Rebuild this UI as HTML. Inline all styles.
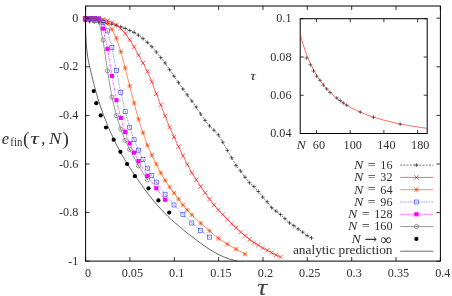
<!DOCTYPE html>
<html><head><meta charset="utf-8"><title>plot</title><style>html,body{margin:0;padding:0;background:#fff;overflow:hidden}body{width:452px;height:296px;position:relative}</style></head><body>
<svg width="452" height="296" viewBox="0 0 452 296" style="display:block;position:absolute;left:0;top:0;will-change:transform">
<rect width="452" height="296" fill="#fff"/>
<polyline fill="none" stroke="#000" stroke-width="0.6" points="85.3,18.2 85.3,20.2 85.3,22.3 85.4,24.3 85.4,26.4 85.5,28.4 85.5,30.5 85.6,32.5 85.7,34.5 85.8,36.6 85.9,38.6 86.0,40.7 86.2,42.7 86.4,44.7 86.5,46.8 86.7,48.8 87.0,50.9 87.2,52.9 87.5,55.0 87.7,57.0 88.1,59.0 88.5,61.1 88.9,63.1 89.3,65.2 89.8,67.2 90.3,69.3 90.8,71.3 91.3,73.3 91.8,75.4 92.2,77.4 92.7,79.5 93.2,81.5 93.8,83.5 94.3,85.6 94.8,87.6 95.4,89.7 95.9,91.7 96.5,93.8 97.1,95.8 97.7,97.8 98.3,99.9 99.0,101.9 99.7,104.0 100.3,106.0 101.0,108.0 101.8,110.1 102.5,112.1 103.2,114.2 104.0,116.2 104.8,118.3 105.6,120.3 106.4,122.3 107.2,124.4 108.1,126.4 109.0,128.5 109.8,130.5 110.7,132.6 111.7,134.6 112.6,136.6 113.5,138.7 114.5,140.7 115.5,142.8 116.5,144.8 117.5,146.8 118.6,148.9 119.7,150.9 120.8,153.0 122.0,155.0 123.2,157.1 124.4,159.1 125.7,161.1 126.9,163.2 128.2,165.2 129.5,167.3 130.9,169.3 132.2,171.4 133.6,173.4 135.0,175.4 136.4,177.5 137.8,179.5 139.2,181.6 140.6,183.6 142.1,185.6 143.5,187.7 145.0,189.7 146.5,191.8 148.1,193.8 149.6,195.9 151.3,197.9 152.9,199.9 154.6,202.0 156.4,204.0 158.2,206.1 160.0,208.1 161.9,210.1 163.8,212.2 165.8,214.2 167.9,216.3 170.0,218.3 172.1,220.4 174.5,222.4 176.9,224.4 179.4,226.5 181.8,228.5 184.2,230.6 186.7,232.6 189.3,234.7 192.0,236.7 194.7,238.7 197.5,240.8 200.2,242.8 202.9,244.9 205.8,246.9 208.9,248.9 212.3,251.0 215.8,253.0 219.7,255.1 224.2,257.1 229.9,259.2 237.5,261.2"/>
<polyline fill="none" stroke="#111" stroke-width="0.6" stroke-dasharray="2 1.2" points="85.3,21.5 89.7,21.7 94.2,22.0 98.6,22.3 103.0,22.7 107.5,23.3 111.9,24.2 116.4,25.3 120.8,26.8 125.2,28.5 129.7,30.5 134.1,32.4 138.5,35.2 143.0,38.6 147.4,42.5 151.8,46.6 156.3,52.0 160.7,57.6 165.1,63.0 169.6,69.7 174.0,76.2 178.5,82.7 182.9,89.0 187.3,94.9 191.8,101.0 196.2,107.0 200.6,114.0 205.1,120.4 209.5,126.0 213.9,130.2 218.4,134.9 222.8,142.2 227.3,150.4 231.7,157.8 236.1,165.6 240.6,171.0 245.0,177.2 249.4,182.7 253.9,186.5 258.3,191.5 262.7,197.1 267.2,201.8 271.6,207.7 276.0,211.1 280.5,214.5 284.9,218.6 289.4,222.8 293.8,225.6 298.2,229.0 302.7,232.1 307.1,235.6 311.5,238.0"/>
<path d="M83.3 21.5H87.3M85.3 19.5V23.5" stroke="#111" stroke-width="0.6" fill="none"/>
<path d="M87.7 21.7H91.7M89.7 19.7V23.7" stroke="#111" stroke-width="0.6" fill="none"/>
<path d="M92.2 22.0H96.2M94.2 20.0V24.0" stroke="#111" stroke-width="0.6" fill="none"/>
<path d="M96.6 22.3H100.6M98.6 20.3V24.3" stroke="#111" stroke-width="0.6" fill="none"/>
<path d="M101.0 22.7H105.0M103.0 20.7V24.7" stroke="#111" stroke-width="0.6" fill="none"/>
<path d="M105.5 23.3H109.5M107.5 21.3V25.3" stroke="#111" stroke-width="0.6" fill="none"/>
<path d="M109.9 24.2H113.9M111.9 22.2V26.2" stroke="#111" stroke-width="0.6" fill="none"/>
<path d="M114.4 25.3H118.4M116.4 23.3V27.3" stroke="#111" stroke-width="0.6" fill="none"/>
<path d="M118.8 26.8H122.8M120.8 24.8V28.8" stroke="#111" stroke-width="0.6" fill="none"/>
<path d="M123.2 28.5H127.2M125.2 26.5V30.5" stroke="#111" stroke-width="0.6" fill="none"/>
<path d="M127.7 30.5H131.7M129.7 28.5V32.5" stroke="#111" stroke-width="0.6" fill="none"/>
<path d="M132.1 32.4H136.1M134.1 30.4V34.4" stroke="#111" stroke-width="0.6" fill="none"/>
<path d="M136.5 35.2H140.5M138.5 33.2V37.2" stroke="#111" stroke-width="0.6" fill="none"/>
<path d="M141.0 38.6H145.0M143.0 36.6V40.6" stroke="#111" stroke-width="0.6" fill="none"/>
<path d="M145.4 42.5H149.4M147.4 40.5V44.5" stroke="#111" stroke-width="0.6" fill="none"/>
<path d="M149.8 46.6H153.8M151.8 44.6V48.6" stroke="#111" stroke-width="0.6" fill="none"/>
<path d="M154.3 52.0H158.3M156.3 50.0V54.0" stroke="#111" stroke-width="0.6" fill="none"/>
<path d="M158.7 57.6H162.7M160.7 55.6V59.6" stroke="#111" stroke-width="0.6" fill="none"/>
<path d="M163.1 63.0H167.1M165.1 61.0V65.0" stroke="#111" stroke-width="0.6" fill="none"/>
<path d="M167.6 69.7H171.6M169.6 67.7V71.7" stroke="#111" stroke-width="0.6" fill="none"/>
<path d="M172.0 76.2H176.0M174.0 74.2V78.2" stroke="#111" stroke-width="0.6" fill="none"/>
<path d="M176.5 82.7H180.5M178.5 80.7V84.7" stroke="#111" stroke-width="0.6" fill="none"/>
<path d="M180.9 89.0H184.9M182.9 87.0V91.0" stroke="#111" stroke-width="0.6" fill="none"/>
<path d="M185.3 94.9H189.3M187.3 92.9V96.9" stroke="#111" stroke-width="0.6" fill="none"/>
<path d="M189.8 101.0H193.8M191.8 99.0V103.0" stroke="#111" stroke-width="0.6" fill="none"/>
<path d="M194.2 107.0H198.2M196.2 105.0V109.0" stroke="#111" stroke-width="0.6" fill="none"/>
<path d="M198.6 114.0H202.6M200.6 112.0V116.0" stroke="#111" stroke-width="0.6" fill="none"/>
<path d="M203.1 120.4H207.1M205.1 118.4V122.4" stroke="#111" stroke-width="0.6" fill="none"/>
<path d="M207.5 126.0H211.5M209.5 124.0V128.0" stroke="#111" stroke-width="0.6" fill="none"/>
<path d="M211.9 130.2H215.9M213.9 128.2V132.2" stroke="#111" stroke-width="0.6" fill="none"/>
<path d="M216.4 134.9H220.4M218.4 132.9V136.9" stroke="#111" stroke-width="0.6" fill="none"/>
<path d="M220.8 142.2H224.8M222.8 140.2V144.2" stroke="#111" stroke-width="0.6" fill="none"/>
<path d="M225.3 150.4H229.3M227.3 148.4V152.4" stroke="#111" stroke-width="0.6" fill="none"/>
<path d="M229.7 157.8H233.7M231.7 155.8V159.8" stroke="#111" stroke-width="0.6" fill="none"/>
<path d="M234.1 165.6H238.1M236.1 163.6V167.6" stroke="#111" stroke-width="0.6" fill="none"/>
<path d="M238.6 171.0H242.6M240.6 169.0V173.0" stroke="#111" stroke-width="0.6" fill="none"/>
<path d="M243.0 177.2H247.0M245.0 175.2V179.2" stroke="#111" stroke-width="0.6" fill="none"/>
<path d="M247.4 182.7H251.4M249.4 180.7V184.7" stroke="#111" stroke-width="0.6" fill="none"/>
<path d="M251.9 186.5H255.9M253.9 184.5V188.5" stroke="#111" stroke-width="0.6" fill="none"/>
<path d="M256.3 191.5H260.3M258.3 189.5V193.5" stroke="#111" stroke-width="0.6" fill="none"/>
<path d="M260.7 197.1H264.7M262.7 195.1V199.1" stroke="#111" stroke-width="0.6" fill="none"/>
<path d="M265.2 201.8H269.2M267.2 199.8V203.8" stroke="#111" stroke-width="0.6" fill="none"/>
<path d="M269.6 207.7H273.6M271.6 205.7V209.7" stroke="#111" stroke-width="0.6" fill="none"/>
<path d="M274.0 211.1H278.0M276.0 209.1V213.1" stroke="#111" stroke-width="0.6" fill="none"/>
<path d="M278.5 214.5H282.5M280.5 212.5V216.5" stroke="#111" stroke-width="0.6" fill="none"/>
<path d="M282.9 218.6H286.9M284.9 216.6V220.6" stroke="#111" stroke-width="0.6" fill="none"/>
<path d="M287.4 222.8H291.4M289.4 220.8V224.8" stroke="#111" stroke-width="0.6" fill="none"/>
<path d="M291.8 225.6H295.8M293.8 223.6V227.6" stroke="#111" stroke-width="0.6" fill="none"/>
<path d="M296.2 229.0H300.2M298.2 227.0V231.0" stroke="#111" stroke-width="0.6" fill="none"/>
<path d="M300.7 232.1H304.7M302.7 230.1V234.1" stroke="#111" stroke-width="0.6" fill="none"/>
<path d="M305.1 235.6H309.1M307.1 233.6V237.6" stroke="#111" stroke-width="0.6" fill="none"/>
<path d="M309.5 238.0H313.5M311.5 236.0V240.0" stroke="#111" stroke-width="0.6" fill="none"/>
<path d="M400.2 165.1H433.2" stroke="#111" stroke-width="0.6" stroke-dasharray="2 1.2" fill="none"/>
<path d="M414.4 165.1H418.4M416.4 163.1V167.1" stroke="#111" stroke-width="0.6" fill="none"/>
<polyline fill="none" stroke="#ff0000" stroke-width="0.6" points="85.3,18.4 89.7,18.5 94.2,18.6 98.6,18.9 103.0,19.5 107.5,20.6 111.9,22.4 116.4,25.0 120.8,28.6 125.2,33.5 129.7,39.8 134.1,46.8 138.5,55.1 143.0,63.0 147.4,71.5 151.8,81.7 156.3,93.8 160.7,105.1 165.1,116.0 169.6,127.2 174.0,137.0 178.5,146.6 182.9,155.7 187.3,164.5 191.8,172.8 196.2,179.8 200.6,186.4 205.1,192.8 209.5,199.2 213.9,204.9 218.4,209.9 222.8,214.5 227.3,219.2 231.7,223.7 236.1,227.7 240.6,232.1 245.0,235.6 249.4,239.4 253.9,242.6 258.3,245.2 262.7,248.0 267.2,250.3 271.6,252.7 276.0,255.0 280.5,257.0"/>
<path d="M83.1 16.2L87.5 20.6M83.1 20.6L87.5 16.2" stroke="#ff0000" stroke-width="0.6" fill="none"/>
<path d="M87.5 16.3L91.9 20.7M87.5 20.7L91.9 16.3" stroke="#ff0000" stroke-width="0.6" fill="none"/>
<path d="M92.0 16.4L96.4 20.8M92.0 20.8L96.4 16.4" stroke="#ff0000" stroke-width="0.6" fill="none"/>
<path d="M96.4 16.7L100.8 21.1M96.4 21.1L100.8 16.7" stroke="#ff0000" stroke-width="0.6" fill="none"/>
<path d="M100.8 17.3L105.2 21.7M100.8 21.7L105.2 17.3" stroke="#ff0000" stroke-width="0.6" fill="none"/>
<path d="M105.3 18.4L109.7 22.8M105.3 22.8L109.7 18.4" stroke="#ff0000" stroke-width="0.6" fill="none"/>
<path d="M109.7 20.2L114.1 24.6M109.7 24.6L114.1 20.2" stroke="#ff0000" stroke-width="0.6" fill="none"/>
<path d="M114.2 22.8L118.6 27.2M114.2 27.2L118.6 22.8" stroke="#ff0000" stroke-width="0.6" fill="none"/>
<path d="M118.6 26.4L123.0 30.8M118.6 30.8L123.0 26.4" stroke="#ff0000" stroke-width="0.6" fill="none"/>
<path d="M123.0 31.3L127.4 35.7M123.0 35.7L127.4 31.3" stroke="#ff0000" stroke-width="0.6" fill="none"/>
<path d="M127.5 37.6L131.9 42.0M127.5 42.0L131.9 37.6" stroke="#ff0000" stroke-width="0.6" fill="none"/>
<path d="M131.9 44.6L136.3 49.0M131.9 49.0L136.3 44.6" stroke="#ff0000" stroke-width="0.6" fill="none"/>
<path d="M136.3 52.9L140.7 57.3M136.3 57.3L140.7 52.9" stroke="#ff0000" stroke-width="0.6" fill="none"/>
<path d="M140.8 60.8L145.2 65.2M140.8 65.2L145.2 60.8" stroke="#ff0000" stroke-width="0.6" fill="none"/>
<path d="M145.2 69.3L149.6 73.7M145.2 73.7L149.6 69.3" stroke="#ff0000" stroke-width="0.6" fill="none"/>
<path d="M149.6 79.5L154.0 83.9M149.6 83.9L154.0 79.5" stroke="#ff0000" stroke-width="0.6" fill="none"/>
<path d="M154.1 91.6L158.5 96.0M154.1 96.0L158.5 91.6" stroke="#ff0000" stroke-width="0.6" fill="none"/>
<path d="M158.5 102.9L162.9 107.3M158.5 107.3L162.9 102.9" stroke="#ff0000" stroke-width="0.6" fill="none"/>
<path d="M162.9 113.8L167.3 118.2M162.9 118.2L167.3 113.8" stroke="#ff0000" stroke-width="0.6" fill="none"/>
<path d="M167.4 125.0L171.8 129.4M167.4 129.4L171.8 125.0" stroke="#ff0000" stroke-width="0.6" fill="none"/>
<path d="M171.8 134.8L176.2 139.2M171.8 139.2L176.2 134.8" stroke="#ff0000" stroke-width="0.6" fill="none"/>
<path d="M176.3 144.4L180.7 148.8M176.3 148.8L180.7 144.4" stroke="#ff0000" stroke-width="0.6" fill="none"/>
<path d="M180.7 153.5L185.1 157.9M180.7 157.9L185.1 153.5" stroke="#ff0000" stroke-width="0.6" fill="none"/>
<path d="M185.1 162.3L189.5 166.7M185.1 166.7L189.5 162.3" stroke="#ff0000" stroke-width="0.6" fill="none"/>
<path d="M189.6 170.6L194.0 175.0M189.6 175.0L194.0 170.6" stroke="#ff0000" stroke-width="0.6" fill="none"/>
<path d="M194.0 177.6L198.4 182.0M194.0 182.0L198.4 177.6" stroke="#ff0000" stroke-width="0.6" fill="none"/>
<path d="M198.4 184.2L202.8 188.6M198.4 188.6L202.8 184.2" stroke="#ff0000" stroke-width="0.6" fill="none"/>
<path d="M202.9 190.6L207.3 195.0M202.9 195.0L207.3 190.6" stroke="#ff0000" stroke-width="0.6" fill="none"/>
<path d="M207.3 197.0L211.7 201.4M207.3 201.4L211.7 197.0" stroke="#ff0000" stroke-width="0.6" fill="none"/>
<path d="M211.7 202.7L216.1 207.1M211.7 207.1L216.1 202.7" stroke="#ff0000" stroke-width="0.6" fill="none"/>
<path d="M216.2 207.7L220.6 212.1M216.2 212.1L220.6 207.7" stroke="#ff0000" stroke-width="0.6" fill="none"/>
<path d="M220.6 212.3L225.0 216.7M220.6 216.7L225.0 212.3" stroke="#ff0000" stroke-width="0.6" fill="none"/>
<path d="M225.1 217.0L229.5 221.4M225.1 221.4L229.5 217.0" stroke="#ff0000" stroke-width="0.6" fill="none"/>
<path d="M229.5 221.5L233.9 225.9M229.5 225.9L233.9 221.5" stroke="#ff0000" stroke-width="0.6" fill="none"/>
<path d="M233.9 225.5L238.3 229.9M233.9 229.9L238.3 225.5" stroke="#ff0000" stroke-width="0.6" fill="none"/>
<path d="M238.4 229.9L242.8 234.3M238.4 234.3L242.8 229.9" stroke="#ff0000" stroke-width="0.6" fill="none"/>
<path d="M242.8 233.4L247.2 237.8M242.8 237.8L247.2 233.4" stroke="#ff0000" stroke-width="0.6" fill="none"/>
<path d="M247.2 237.2L251.6 241.6M247.2 241.6L251.6 237.2" stroke="#ff0000" stroke-width="0.6" fill="none"/>
<path d="M251.7 240.4L256.1 244.8M251.7 244.8L256.1 240.4" stroke="#ff0000" stroke-width="0.6" fill="none"/>
<path d="M256.1 243.0L260.5 247.4M256.1 247.4L260.5 243.0" stroke="#ff0000" stroke-width="0.6" fill="none"/>
<path d="M260.5 245.8L264.9 250.2M260.5 250.2L264.9 245.8" stroke="#ff0000" stroke-width="0.6" fill="none"/>
<path d="M265.0 248.1L269.4 252.5M265.0 252.5L269.4 248.1" stroke="#ff0000" stroke-width="0.6" fill="none"/>
<path d="M269.4 250.5L273.8 254.9M269.4 254.9L273.8 250.5" stroke="#ff0000" stroke-width="0.6" fill="none"/>
<path d="M273.8 252.8L278.2 257.2M273.8 257.2L278.2 252.8" stroke="#ff0000" stroke-width="0.6" fill="none"/>
<path d="M278.3 254.8L282.7 259.2M278.3 259.2L282.7 254.8" stroke="#ff0000" stroke-width="0.6" fill="none"/>
<path d="M400.2 177.4H433.2" stroke="#ff0000" stroke-width="0.6" fill="none"/>
<path d="M414.2 175.2L418.6 179.6M414.2 179.6L418.6 175.2" stroke="#ff0000" stroke-width="0.6" fill="none"/>
<polyline fill="none" stroke="#ff4500" stroke-width="0.6" points="85.3,18.4 89.7,18.4 94.2,18.5 98.6,18.7 103.0,19.6 107.5,23.3 111.9,29.3 116.4,38.2 120.8,51.7 125.2,68.1 129.7,85.9 134.1,103.1 138.5,119.1 143.0,132.8 147.4,145.3 151.8,155.2 156.3,164.2 160.7,172.8 165.1,180.5 169.6,187.0 174.0,193.0 178.5,199.2 182.9,205.0 187.3,210.1 191.8,214.8 200.6,223.2 209.5,230.8 218.4,238.4 227.3,244.1 236.1,249.2 245.0,254.2"/>
<path d="M83.1 18.4H87.5M85.3 16.2V20.6" stroke="#ff4500" stroke-width="0.6" fill="none"/><path d="M83.1 16.2L87.5 20.6M83.1 20.6L87.5 16.2" stroke="#ff4500" stroke-width="0.6" fill="none"/>
<path d="M87.5 18.4H91.9M89.7 16.2V20.6" stroke="#ff4500" stroke-width="0.6" fill="none"/><path d="M87.5 16.2L91.9 20.6M87.5 20.6L91.9 16.2" stroke="#ff4500" stroke-width="0.6" fill="none"/>
<path d="M92.0 18.5H96.4M94.2 16.3V20.7" stroke="#ff4500" stroke-width="0.6" fill="none"/><path d="M92.0 16.3L96.4 20.7M92.0 20.7L96.4 16.3" stroke="#ff4500" stroke-width="0.6" fill="none"/>
<path d="M96.4 18.7H100.8M98.6 16.5V20.9" stroke="#ff4500" stroke-width="0.6" fill="none"/><path d="M96.4 16.5L100.8 20.9M96.4 20.9L100.8 16.5" stroke="#ff4500" stroke-width="0.6" fill="none"/>
<path d="M100.8 19.6H105.2M103.0 17.4V21.8" stroke="#ff4500" stroke-width="0.6" fill="none"/><path d="M100.8 17.4L105.2 21.8M100.8 21.8L105.2 17.4" stroke="#ff4500" stroke-width="0.6" fill="none"/>
<path d="M105.3 23.3H109.7M107.5 21.1V25.5" stroke="#ff4500" stroke-width="0.6" fill="none"/><path d="M105.3 21.1L109.7 25.5M105.3 25.5L109.7 21.1" stroke="#ff4500" stroke-width="0.6" fill="none"/>
<path d="M109.7 29.3H114.1M111.9 27.1V31.5" stroke="#ff4500" stroke-width="0.6" fill="none"/><path d="M109.7 27.1L114.1 31.5M109.7 31.5L114.1 27.1" stroke="#ff4500" stroke-width="0.6" fill="none"/>
<path d="M114.2 38.2H118.6M116.4 36.0V40.4" stroke="#ff4500" stroke-width="0.6" fill="none"/><path d="M114.2 36.0L118.6 40.4M114.2 40.4L118.6 36.0" stroke="#ff4500" stroke-width="0.6" fill="none"/>
<path d="M118.6 51.7H123.0M120.8 49.5V53.9" stroke="#ff4500" stroke-width="0.6" fill="none"/><path d="M118.6 49.5L123.0 53.9M118.6 53.9L123.0 49.5" stroke="#ff4500" stroke-width="0.6" fill="none"/>
<path d="M123.0 68.1H127.4M125.2 65.9V70.3" stroke="#ff4500" stroke-width="0.6" fill="none"/><path d="M123.0 65.9L127.4 70.3M123.0 70.3L127.4 65.9" stroke="#ff4500" stroke-width="0.6" fill="none"/>
<path d="M127.5 85.9H131.9M129.7 83.7V88.1" stroke="#ff4500" stroke-width="0.6" fill="none"/><path d="M127.5 83.7L131.9 88.1M127.5 88.1L131.9 83.7" stroke="#ff4500" stroke-width="0.6" fill="none"/>
<path d="M131.9 103.1H136.3M134.1 100.9V105.3" stroke="#ff4500" stroke-width="0.6" fill="none"/><path d="M131.9 100.9L136.3 105.3M131.9 105.3L136.3 100.9" stroke="#ff4500" stroke-width="0.6" fill="none"/>
<path d="M136.3 119.1H140.7M138.5 116.9V121.3" stroke="#ff4500" stroke-width="0.6" fill="none"/><path d="M136.3 116.9L140.7 121.3M136.3 121.3L140.7 116.9" stroke="#ff4500" stroke-width="0.6" fill="none"/>
<path d="M140.8 132.8H145.2M143.0 130.6V135.0" stroke="#ff4500" stroke-width="0.6" fill="none"/><path d="M140.8 130.6L145.2 135.0M140.8 135.0L145.2 130.6" stroke="#ff4500" stroke-width="0.6" fill="none"/>
<path d="M145.2 145.3H149.6M147.4 143.1V147.5" stroke="#ff4500" stroke-width="0.6" fill="none"/><path d="M145.2 143.1L149.6 147.5M145.2 147.5L149.6 143.1" stroke="#ff4500" stroke-width="0.6" fill="none"/>
<path d="M149.6 155.2H154.0M151.8 153.0V157.4" stroke="#ff4500" stroke-width="0.6" fill="none"/><path d="M149.6 153.0L154.0 157.4M149.6 157.4L154.0 153.0" stroke="#ff4500" stroke-width="0.6" fill="none"/>
<path d="M154.1 164.2H158.5M156.3 162.0V166.4" stroke="#ff4500" stroke-width="0.6" fill="none"/><path d="M154.1 162.0L158.5 166.4M154.1 166.4L158.5 162.0" stroke="#ff4500" stroke-width="0.6" fill="none"/>
<path d="M158.5 172.8H162.9M160.7 170.6V175.0" stroke="#ff4500" stroke-width="0.6" fill="none"/><path d="M158.5 170.6L162.9 175.0M158.5 175.0L162.9 170.6" stroke="#ff4500" stroke-width="0.6" fill="none"/>
<path d="M162.9 180.5H167.3M165.1 178.3V182.7" stroke="#ff4500" stroke-width="0.6" fill="none"/><path d="M162.9 178.3L167.3 182.7M162.9 182.7L167.3 178.3" stroke="#ff4500" stroke-width="0.6" fill="none"/>
<path d="M167.4 187.0H171.8M169.6 184.8V189.2" stroke="#ff4500" stroke-width="0.6" fill="none"/><path d="M167.4 184.8L171.8 189.2M167.4 189.2L171.8 184.8" stroke="#ff4500" stroke-width="0.6" fill="none"/>
<path d="M171.8 193.0H176.2M174.0 190.8V195.2" stroke="#ff4500" stroke-width="0.6" fill="none"/><path d="M171.8 190.8L176.2 195.2M171.8 195.2L176.2 190.8" stroke="#ff4500" stroke-width="0.6" fill="none"/>
<path d="M176.3 199.2H180.7M178.5 197.0V201.4" stroke="#ff4500" stroke-width="0.6" fill="none"/><path d="M176.3 197.0L180.7 201.4M176.3 201.4L180.7 197.0" stroke="#ff4500" stroke-width="0.6" fill="none"/>
<path d="M180.7 205.0H185.1M182.9 202.8V207.2" stroke="#ff4500" stroke-width="0.6" fill="none"/><path d="M180.7 202.8L185.1 207.2M180.7 207.2L185.1 202.8" stroke="#ff4500" stroke-width="0.6" fill="none"/>
<path d="M185.1 210.1H189.5M187.3 207.9V212.3" stroke="#ff4500" stroke-width="0.6" fill="none"/><path d="M185.1 207.9L189.5 212.3M185.1 212.3L189.5 207.9" stroke="#ff4500" stroke-width="0.6" fill="none"/>
<path d="M189.6 214.8H194.0M191.8 212.6V217.0" stroke="#ff4500" stroke-width="0.6" fill="none"/><path d="M189.6 212.6L194.0 217.0M189.6 217.0L194.0 212.6" stroke="#ff4500" stroke-width="0.6" fill="none"/>
<path d="M198.4 223.2H202.8M200.6 221.0V225.4" stroke="#ff4500" stroke-width="0.6" fill="none"/><path d="M198.4 221.0L202.8 225.4M198.4 225.4L202.8 221.0" stroke="#ff4500" stroke-width="0.6" fill="none"/>
<path d="M207.3 230.8H211.7M209.5 228.6V233.0" stroke="#ff4500" stroke-width="0.6" fill="none"/><path d="M207.3 228.6L211.7 233.0M207.3 233.0L211.7 228.6" stroke="#ff4500" stroke-width="0.6" fill="none"/>
<path d="M216.2 238.4H220.6M218.4 236.2V240.6" stroke="#ff4500" stroke-width="0.6" fill="none"/><path d="M216.2 236.2L220.6 240.6M216.2 240.6L220.6 236.2" stroke="#ff4500" stroke-width="0.6" fill="none"/>
<path d="M225.1 244.1H229.5M227.3 241.9V246.3" stroke="#ff4500" stroke-width="0.6" fill="none"/><path d="M225.1 241.9L229.5 246.3M225.1 246.3L229.5 241.9" stroke="#ff4500" stroke-width="0.6" fill="none"/>
<path d="M233.9 249.2H238.3M236.1 247.0V251.4" stroke="#ff4500" stroke-width="0.6" fill="none"/><path d="M233.9 247.0L238.3 251.4M233.9 251.4L238.3 247.0" stroke="#ff4500" stroke-width="0.6" fill="none"/>
<path d="M242.8 254.2H247.2M245.0 252.0V256.4" stroke="#ff4500" stroke-width="0.6" fill="none"/><path d="M242.8 252.0L247.2 256.4M242.8 256.4L247.2 252.0" stroke="#ff4500" stroke-width="0.6" fill="none"/>
<path d="M400.2 189.7H433.2" stroke="#ff4500" stroke-width="0.6" fill="none"/>
<path d="M414.2 189.7H418.6M416.4 187.5V191.9" stroke="#ff4500" stroke-width="0.6" fill="none"/><path d="M414.2 187.5L418.6 191.9M414.2 191.9L418.6 187.5" stroke="#ff4500" stroke-width="0.6" fill="none"/>
<polyline fill="none" stroke="#3030ff" stroke-width="0.6" stroke-dasharray="0.8 0.8" points="85.3,18.4 89.7,18.4 94.2,18.5 98.6,18.8 103.0,22.5 107.5,30.9 111.9,47.3 116.4,70.5 120.8,92.5 125.2,111.7 129.7,127.2 134.1,139.7 138.5,150.2 143.0,159.6 147.4,168.1 151.8,175.6 156.3,182.1 165.1,194.2 174.0,205.0 182.9,214.3 191.8,223.0 200.6,230.3 209.5,237.1"/>
<rect x="83.3" y="16.4" width="4.0" height="4.0" fill="none" stroke="#3030ff" stroke-width="0.6"/><circle cx="85.3" cy="18.4" r="0.35" fill="#3030ff"/>
<rect x="87.7" y="16.4" width="4.0" height="4.0" fill="none" stroke="#3030ff" stroke-width="0.6"/><circle cx="89.7" cy="18.4" r="0.35" fill="#3030ff"/>
<rect x="92.2" y="16.5" width="4.0" height="4.0" fill="none" stroke="#3030ff" stroke-width="0.6"/><circle cx="94.2" cy="18.5" r="0.35" fill="#3030ff"/>
<rect x="96.6" y="16.8" width="4.0" height="4.0" fill="none" stroke="#3030ff" stroke-width="0.6"/><circle cx="98.6" cy="18.8" r="0.35" fill="#3030ff"/>
<rect x="101.0" y="20.5" width="4.0" height="4.0" fill="none" stroke="#3030ff" stroke-width="0.6"/><circle cx="103.0" cy="22.5" r="0.35" fill="#3030ff"/>
<rect x="105.5" y="28.9" width="4.0" height="4.0" fill="none" stroke="#3030ff" stroke-width="0.6"/><circle cx="107.5" cy="30.9" r="0.35" fill="#3030ff"/>
<rect x="109.9" y="45.3" width="4.0" height="4.0" fill="none" stroke="#3030ff" stroke-width="0.6"/><circle cx="111.9" cy="47.3" r="0.35" fill="#3030ff"/>
<rect x="114.4" y="68.5" width="4.0" height="4.0" fill="none" stroke="#3030ff" stroke-width="0.6"/><circle cx="116.4" cy="70.5" r="0.35" fill="#3030ff"/>
<rect x="118.8" y="90.5" width="4.0" height="4.0" fill="none" stroke="#3030ff" stroke-width="0.6"/><circle cx="120.8" cy="92.5" r="0.35" fill="#3030ff"/>
<rect x="123.2" y="109.7" width="4.0" height="4.0" fill="none" stroke="#3030ff" stroke-width="0.6"/><circle cx="125.2" cy="111.7" r="0.35" fill="#3030ff"/>
<rect x="127.7" y="125.2" width="4.0" height="4.0" fill="none" stroke="#3030ff" stroke-width="0.6"/><circle cx="129.7" cy="127.2" r="0.35" fill="#3030ff"/>
<rect x="132.1" y="137.7" width="4.0" height="4.0" fill="none" stroke="#3030ff" stroke-width="0.6"/><circle cx="134.1" cy="139.7" r="0.35" fill="#3030ff"/>
<rect x="136.5" y="148.2" width="4.0" height="4.0" fill="none" stroke="#3030ff" stroke-width="0.6"/><circle cx="138.5" cy="150.2" r="0.35" fill="#3030ff"/>
<rect x="141.0" y="157.6" width="4.0" height="4.0" fill="none" stroke="#3030ff" stroke-width="0.6"/><circle cx="143.0" cy="159.6" r="0.35" fill="#3030ff"/>
<rect x="145.4" y="166.1" width="4.0" height="4.0" fill="none" stroke="#3030ff" stroke-width="0.6"/><circle cx="147.4" cy="168.1" r="0.35" fill="#3030ff"/>
<rect x="149.8" y="173.6" width="4.0" height="4.0" fill="none" stroke="#3030ff" stroke-width="0.6"/><circle cx="151.8" cy="175.6" r="0.35" fill="#3030ff"/>
<rect x="154.3" y="180.1" width="4.0" height="4.0" fill="none" stroke="#3030ff" stroke-width="0.6"/><circle cx="156.3" cy="182.1" r="0.35" fill="#3030ff"/>
<rect x="163.1" y="192.2" width="4.0" height="4.0" fill="none" stroke="#3030ff" stroke-width="0.6"/><circle cx="165.1" cy="194.2" r="0.35" fill="#3030ff"/>
<rect x="172.0" y="203.0" width="4.0" height="4.0" fill="none" stroke="#3030ff" stroke-width="0.6"/><circle cx="174.0" cy="205.0" r="0.35" fill="#3030ff"/>
<rect x="180.9" y="212.3" width="4.0" height="4.0" fill="none" stroke="#3030ff" stroke-width="0.6"/><circle cx="182.9" cy="214.3" r="0.35" fill="#3030ff"/>
<rect x="189.8" y="221.0" width="4.0" height="4.0" fill="none" stroke="#3030ff" stroke-width="0.6"/><circle cx="191.8" cy="223.0" r="0.35" fill="#3030ff"/>
<rect x="198.6" y="228.3" width="4.0" height="4.0" fill="none" stroke="#3030ff" stroke-width="0.6"/><circle cx="200.6" cy="230.3" r="0.35" fill="#3030ff"/>
<rect x="207.5" y="235.1" width="4.0" height="4.0" fill="none" stroke="#3030ff" stroke-width="0.6"/><circle cx="209.5" cy="237.1" r="0.35" fill="#3030ff"/>
<path d="M400.2 202.0H433.2" stroke="#3030ff" stroke-width="0.6" stroke-dasharray="0.8 0.8" fill="none"/>
<rect x="414.4" y="200.0" width="4.0" height="4.0" fill="none" stroke="#3030ff" stroke-width="0.6"/><circle cx="416.4" cy="202.0" r="0.35" fill="#3030ff"/>
<polyline fill="none" stroke="#ff00ff" stroke-width="0.6" stroke-dasharray="3 1 1 1" points="85.3,18.4 89.7,18.4 94.2,18.5 98.6,18.9 103.0,28.5 107.5,48.9 111.9,75.9 116.4,100.2 120.8,117.9 125.2,131.9 129.7,143.4 134.1,152.6 138.5,161.1 147.4,175.9 156.3,188.3 165.1,199.7"/>
<rect x="83.2" y="16.3" width="4.2" height="4.2" fill="#ff00ff"/>
<rect x="87.6" y="16.3" width="4.2" height="4.2" fill="#ff00ff"/>
<rect x="92.1" y="16.4" width="4.2" height="4.2" fill="#ff00ff"/>
<rect x="96.5" y="16.8" width="4.2" height="4.2" fill="#ff00ff"/>
<rect x="100.9" y="26.4" width="4.2" height="4.2" fill="#ff00ff"/>
<rect x="105.4" y="46.8" width="4.2" height="4.2" fill="#ff00ff"/>
<rect x="109.8" y="73.8" width="4.2" height="4.2" fill="#ff00ff"/>
<rect x="114.3" y="98.1" width="4.2" height="4.2" fill="#ff00ff"/>
<rect x="118.7" y="115.8" width="4.2" height="4.2" fill="#ff00ff"/>
<rect x="123.1" y="129.8" width="4.2" height="4.2" fill="#ff00ff"/>
<rect x="127.6" y="141.3" width="4.2" height="4.2" fill="#ff00ff"/>
<rect x="132.0" y="150.5" width="4.2" height="4.2" fill="#ff00ff"/>
<rect x="136.4" y="159.0" width="4.2" height="4.2" fill="#ff00ff"/>
<rect x="145.3" y="173.8" width="4.2" height="4.2" fill="#ff00ff"/>
<rect x="154.2" y="186.2" width="4.2" height="4.2" fill="#ff00ff"/>
<rect x="163.0" y="197.6" width="4.2" height="4.2" fill="#ff00ff"/>
<path d="M400.2 214.3H433.2" stroke="#ff00ff" stroke-width="0.6" stroke-dasharray="3 1 1 1" fill="none"/>
<rect x="414.3" y="212.2" width="4.2" height="4.2" fill="#ff00ff"/>
<polyline fill="none" stroke="#555" stroke-width="0.6" points="85.3,18.4 89.7,18.4 94.2,18.6 98.6,19.8 103.0,40.0 107.5,70.8 111.9,97.2 116.4,115.6 120.8,129.1 125.2,140.4 129.7,149.4 138.5,165.8 147.4,179.8"/>
<circle cx="85.3" cy="18.4" r="2.1" fill="none" stroke="#555" stroke-width="0.6"/><circle cx="85.3" cy="18.4" r="0.5" fill="#555"/>
<circle cx="89.7" cy="18.4" r="2.1" fill="none" stroke="#555" stroke-width="0.6"/><circle cx="89.7" cy="18.4" r="0.5" fill="#555"/>
<circle cx="94.2" cy="18.6" r="2.1" fill="none" stroke="#555" stroke-width="0.6"/><circle cx="94.2" cy="18.6" r="0.5" fill="#555"/>
<circle cx="98.6" cy="19.8" r="2.1" fill="none" stroke="#555" stroke-width="0.6"/><circle cx="98.6" cy="19.8" r="0.5" fill="#555"/>
<circle cx="103.0" cy="40.0" r="2.1" fill="none" stroke="#555" stroke-width="0.6"/><circle cx="103.0" cy="40.0" r="0.5" fill="#555"/>
<circle cx="107.5" cy="70.8" r="2.1" fill="none" stroke="#555" stroke-width="0.6"/><circle cx="107.5" cy="70.8" r="0.5" fill="#555"/>
<circle cx="111.9" cy="97.2" r="2.1" fill="none" stroke="#555" stroke-width="0.6"/><circle cx="111.9" cy="97.2" r="0.5" fill="#555"/>
<circle cx="116.4" cy="115.6" r="2.1" fill="none" stroke="#555" stroke-width="0.6"/><circle cx="116.4" cy="115.6" r="0.5" fill="#555"/>
<circle cx="120.8" cy="129.1" r="2.1" fill="none" stroke="#555" stroke-width="0.6"/><circle cx="120.8" cy="129.1" r="0.5" fill="#555"/>
<circle cx="125.2" cy="140.4" r="2.1" fill="none" stroke="#555" stroke-width="0.6"/><circle cx="125.2" cy="140.4" r="0.5" fill="#555"/>
<circle cx="129.7" cy="149.4" r="2.1" fill="none" stroke="#555" stroke-width="0.6"/><circle cx="129.7" cy="149.4" r="0.5" fill="#555"/>
<circle cx="138.5" cy="165.8" r="2.1" fill="none" stroke="#555" stroke-width="0.6"/><circle cx="138.5" cy="165.8" r="0.5" fill="#555"/>
<circle cx="147.4" cy="179.8" r="2.1" fill="none" stroke="#555" stroke-width="0.6"/><circle cx="147.4" cy="179.8" r="0.5" fill="#555"/>
<path d="M400.2 226.6H433.2" stroke="#555" stroke-width="0.6" fill="none"/>
<circle cx="416.4" cy="226.6" r="2.1" fill="none" stroke="#555" stroke-width="0.6"/><circle cx="416.4" cy="226.6" r="0.5" fill="#555"/>
<circle cx="93.7" cy="91.1" r="2.1" fill="#000"/>
<circle cx="96.3" cy="103.2" r="2.1" fill="#000"/>
<circle cx="100.7" cy="115.4" r="2.1" fill="#000"/>
<circle cx="106.0" cy="127.5" r="2.1" fill="#000"/>
<circle cx="113.7" cy="139.7" r="2.1" fill="#000"/>
<circle cx="120.4" cy="151.8" r="2.1" fill="#000"/>
<circle cx="127.1" cy="164.0" r="2.1" fill="#000"/>
<circle cx="134.9" cy="176.2" r="2.1" fill="#000"/>
<circle cx="148.5" cy="188.3" r="2.1" fill="#000"/>
<circle cx="158.4" cy="200.4" r="2.1" fill="#000"/>
<circle cx="169.2" cy="212.6" r="2.1" fill="#000"/>
<circle cx="416.4" cy="238.9" r="2.1" fill="#000"/>
<path d="M400.2 251.2H433.2" stroke="#000" stroke-width="0.6" fill="none"/>
<text transform="translate(392.5 168.9) scale(1 1)" text-anchor="end" font-family="Liberation Serif, serif" font-size="12.2" fill="#303030">16</text>
<text transform="translate(371.8 168.6) scale(1.15 1)" text-anchor="middle" font-family="Liberation Serif, serif" font-size="12.2" fill="#303030">=</text>
<text transform="translate(354.0 168.9) scale(1.12 1)" text-anchor="start" font-family="Liberation Serif, serif" font-size="12.5" font-style="italic" fill="#303030">N</text>
<text transform="translate(392.5 181.2) scale(1 1)" text-anchor="end" font-family="Liberation Serif, serif" font-size="12.2" fill="#303030">32</text>
<text transform="translate(371.8 180.9) scale(1.15 1)" text-anchor="middle" font-family="Liberation Serif, serif" font-size="12.2" fill="#303030">=</text>
<text transform="translate(354.0 181.2) scale(1.12 1)" text-anchor="start" font-family="Liberation Serif, serif" font-size="12.5" font-style="italic" fill="#303030">N</text>
<text transform="translate(392.5 193.5) scale(1 1)" text-anchor="end" font-family="Liberation Serif, serif" font-size="12.2" fill="#303030">64</text>
<text transform="translate(371.8 193.2) scale(1.15 1)" text-anchor="middle" font-family="Liberation Serif, serif" font-size="12.2" fill="#303030">=</text>
<text transform="translate(354.0 193.5) scale(1.12 1)" text-anchor="start" font-family="Liberation Serif, serif" font-size="12.5" font-style="italic" fill="#303030">N</text>
<text transform="translate(392.5 205.8) scale(1 1)" text-anchor="end" font-family="Liberation Serif, serif" font-size="12.2" fill="#303030">96</text>
<text transform="translate(371.8 205.5) scale(1.15 1)" text-anchor="middle" font-family="Liberation Serif, serif" font-size="12.2" fill="#303030">=</text>
<text transform="translate(354.0 205.8) scale(1.12 1)" text-anchor="start" font-family="Liberation Serif, serif" font-size="12.5" font-style="italic" fill="#303030">N</text>
<text transform="translate(392.5 218.1) scale(1 1)" text-anchor="end" font-family="Liberation Serif, serif" font-size="12.2" fill="#303030">128</text>
<text transform="translate(365.7 217.8) scale(1.15 1)" text-anchor="middle" font-family="Liberation Serif, serif" font-size="12.2" fill="#303030">=</text>
<text transform="translate(347.9 218.1) scale(1.12 1)" text-anchor="start" font-family="Liberation Serif, serif" font-size="12.5" font-style="italic" fill="#303030">N</text>
<text transform="translate(392.5 230.4) scale(1 1)" text-anchor="end" font-family="Liberation Serif, serif" font-size="12.2" fill="#303030">160</text>
<text transform="translate(365.7 230.1) scale(1.15 1)" text-anchor="middle" font-family="Liberation Serif, serif" font-size="12.2" fill="#303030">=</text>
<text transform="translate(347.9 230.4) scale(1.12 1)" text-anchor="start" font-family="Liberation Serif, serif" font-size="12.5" font-style="italic" fill="#303030">N</text>
<text transform="translate(351.5 242.7) scale(1.12 1)" text-anchor="start" font-family="Liberation Serif, serif" font-size="12.5" font-style="italic" fill="#303030">N</text>
<text x="364.5" y="243.9" font-family="DejaVu Serif, serif" font-size="15" fill="#333">→</text>
<text transform="translate(380.6 244.7) scale(1.0 1)" text-anchor="start" font-family="Liberation Serif, serif" font-size="16" fill="#303030">∞</text>
<text transform="translate(392.5 253.8) scale(1.094 1)" text-anchor="end" font-family="Liberation Serif, serif" font-size="12.2" fill="#303030">analytic prediction</text>
<rect x="85.6" y="6.0" width="354.8" height="255.1" fill="none" stroke="#000" stroke-width="1"/>
<text transform="translate(88.0 276.8) scale(1 1)" text-anchor="middle" font-family="Liberation Serif, serif" font-size="12.2" fill="#303030">0</text>
<text transform="translate(132.3 276.8) scale(1 1)" text-anchor="middle" font-family="Liberation Serif, serif" font-size="12.2" fill="#303030">0.05</text>
<text transform="translate(176.7 276.8) scale(1 1)" text-anchor="middle" font-family="Liberation Serif, serif" font-size="12.2" fill="#303030">0.1</text>
<text transform="translate(221.0 276.8) scale(1 1)" text-anchor="middle" font-family="Liberation Serif, serif" font-size="12.2" fill="#303030">0.15</text>
<text transform="translate(265.4 276.8) scale(1 1)" text-anchor="middle" font-family="Liberation Serif, serif" font-size="12.2" fill="#303030">0.2</text>
<text transform="translate(309.7 276.8) scale(1 1)" text-anchor="middle" font-family="Liberation Serif, serif" font-size="12.2" fill="#303030">0.25</text>
<text transform="translate(354.1 276.8) scale(1 1)" text-anchor="middle" font-family="Liberation Serif, serif" font-size="12.2" fill="#303030">0.3</text>
<text transform="translate(398.4 276.8) scale(1 1)" text-anchor="middle" font-family="Liberation Serif, serif" font-size="12.2" fill="#303030">0.35</text>
<text transform="translate(442.8 276.8) scale(1 1)" text-anchor="middle" font-family="Liberation Serif, serif" font-size="12.2" fill="#303030">0.4</text>
<text transform="translate(78.3 21.8) scale(1 1)" text-anchor="end" font-family="Liberation Serif, serif" font-size="12.2" fill="#303030">0</text>
<text transform="translate(78.3 70.4) scale(1 1)" text-anchor="end" font-family="Liberation Serif, serif" font-size="12.2" fill="#303030">-0.2</text>
<text transform="translate(78.3 119.0) scale(1 1)" text-anchor="end" font-family="Liberation Serif, serif" font-size="12.2" fill="#303030">-0.4</text>
<text transform="translate(78.3 167.6) scale(1 1)" text-anchor="end" font-family="Liberation Serif, serif" font-size="12.2" fill="#303030">-0.6</text>
<text transform="translate(78.3 216.2) scale(1 1)" text-anchor="end" font-family="Liberation Serif, serif" font-size="12.2" fill="#303030">-0.8</text>
<text transform="translate(78.3 264.8) scale(1 1)" text-anchor="end" font-family="Liberation Serif, serif" font-size="12.2" fill="#303030">-1</text>
<path d="M85.6 261.1v-4M85.6 6.0v4M129.9 261.1v-4M129.9 6.0v4M174.3 261.1v-4M174.3 6.0v4M218.6 261.1v-4M218.6 6.0v4M263.0 261.1v-4M263.0 6.0v4M307.3 261.1v-4M307.3 6.0v4M351.7 261.1v-4M351.7 6.0v4M396.0 261.1v-4M396.0 6.0v4M440.4 261.1v-4M440.4 6.0v4M85.6 18.2h4M440.4 18.2h-4M85.6 66.8h4M440.4 66.8h-4M85.6 115.4h4M440.4 115.4h-4M85.6 164.0h4M440.4 164.0h-4M85.6 212.6h4M440.4 212.6h-4M85.6 261.2h4M440.4 261.2h-4" stroke="#000" stroke-width="0.8" fill="none"/>
<text transform="translate(1.7 144.2) scale(1 1)" text-anchor="start" font-family="Liberation Serif, serif" font-size="16.5" font-style="italic" fill="#303030">e</text>
<text transform="translate(10.3 146.3) scale(0.9 1)" text-anchor="start" font-family="Liberation Serif, serif" font-size="12" fill="#303030">fin</text>
<text transform="translate(23.0 144.5) scale(1 1)" text-anchor="start" font-family="Liberation Serif, serif" font-size="19" fill="#303030">(</text>
<text transform="translate(30.3 144.2) scale(1.45 1)" text-anchor="start" font-family="Liberation Serif, serif" font-size="16.5" font-style="italic" fill="#303030">τ</text>
<text transform="translate(41.3 144.2) scale(1 1)" text-anchor="start" font-family="Liberation Serif, serif" font-size="16.5" fill="#303030">,</text>
<text transform="translate(48.9 144.2) scale(1.12 1)" text-anchor="start" font-family="Liberation Serif, serif" font-size="16.5" font-style="italic" fill="#303030">N</text>
<text transform="translate(62.6 144.5) scale(1 1)" text-anchor="start" font-family="Liberation Serif, serif" font-size="19" fill="#303030">)</text>
<text transform="translate(257.0 294.6) scale(1.26 1)" text-anchor="start" font-family="Liberation Serif, serif" font-size="22.5" font-style="italic" fill="#444">τ</text>
<rect x="300.2" y="18.7" width="127.0" height="114.8" fill="#fff" stroke="#000" stroke-width="1"/>
<polyline fill="none" stroke="#ff0000" stroke-width="0.6" points="300.2,34.5 301.8,40.2 303.4,45.4 305.0,50.2 306.6,54.5 308.2,58.5 309.8,62.2 311.5,65.7 313.1,68.9 314.7,71.8 316.3,74.6 317.9,77.2 319.5,79.6 321.1,81.8 322.7,84.0 324.3,86.0 325.9,87.9 327.5,89.7 329.1,91.3 330.7,92.9 332.4,94.5 334.0,95.9 335.6,97.3 337.2,98.6 338.8,99.8 340.4,101.0 342.0,102.1 343.6,103.2 345.2,104.2 346.8,105.2 348.4,106.2 350.0,107.1 351.6,108.0 353.3,108.8 354.9,109.6 356.5,110.4 358.1,111.1 359.7,111.8 361.3,112.5 362.9,113.2 364.5,113.8 366.1,114.5 367.7,115.1 369.3,115.6 370.9,116.2 372.5,116.8 374.1,117.3 375.8,117.8 377.4,118.3 379.0,118.8 380.6,119.2 382.2,119.7 383.8,120.1 385.4,120.5 387.0,120.9 388.6,121.3 390.2,121.7 391.8,122.1 393.4,122.5 395.0,122.8 396.7,123.2 398.3,123.5 399.9,123.8 401.5,124.2 403.1,124.5 404.7,124.8 406.3,125.1 407.9,125.4 409.5,125.7 411.1,125.9 412.7,126.2 414.3,126.5 415.9,126.7 417.6,127.0 419.2,127.2 420.8,127.5 422.4,127.7 424.0,127.9 425.6,128.2 427.2,128.4"/>
<path d="M304.4 58.0H308.4M306.4 56.0V60.0" stroke="#000" stroke-width="0.5" fill="none"/>
<path d="M308.4 64.8H312.4M310.4 62.8V66.8" stroke="#000" stroke-width="0.5" fill="none"/>
<path d="M311.5 71.0H315.5M313.5 69.0V73.0" stroke="#000" stroke-width="0.5" fill="none"/>
<path d="M314.6 76.1H318.6M316.6 74.1V78.1" stroke="#000" stroke-width="0.5" fill="none"/>
<path d="M318.0 80.3H322.0M320.0 78.3V82.3" stroke="#000" stroke-width="0.5" fill="none"/>
<path d="M321.4 85.0H325.4M323.4 83.0V87.0" stroke="#000" stroke-width="0.5" fill="none"/>
<path d="M324.7 88.9H328.7M326.7 86.9V90.9" stroke="#000" stroke-width="0.5" fill="none"/>
<path d="M328.1 92.5H332.1M330.1 90.5V94.5" stroke="#000" stroke-width="0.5" fill="none"/>
<path d="M334.8 97.9H338.8M336.8 95.9V99.9" stroke="#000" stroke-width="0.5" fill="none"/>
<path d="M338.2 100.5H342.2M340.2 98.5V102.5" stroke="#000" stroke-width="0.5" fill="none"/>
<path d="M341.3 102.9H345.3M343.3 100.9V104.9" stroke="#000" stroke-width="0.5" fill="none"/>
<path d="M344.7 105.2H348.7M346.7 103.2V107.2" stroke="#000" stroke-width="0.5" fill="none"/>
<path d="M358.2 112.0H362.2M360.2 110.0V114.0" stroke="#000" stroke-width="0.5" fill="none"/>
<path d="M371.5 117.2H375.5M373.5 115.2V119.2" stroke="#000" stroke-width="0.5" fill="none"/>
<path d="M398.2 124.2H402.2M400.2 122.2V126.2" stroke="#000" stroke-width="0.5" fill="none"/>
<text transform="translate(318.9 148.8) scale(1 1)" text-anchor="middle" font-family="Liberation Serif, serif" font-size="12.2" fill="#303030">60</text>
<text transform="translate(352.7 148.8) scale(1 1)" text-anchor="middle" font-family="Liberation Serif, serif" font-size="12.2" fill="#303030">100</text>
<text transform="translate(386.4 148.8) scale(1 1)" text-anchor="middle" font-family="Liberation Serif, serif" font-size="12.2" fill="#303030">140</text>
<text transform="translate(420.2 148.8) scale(1 1)" text-anchor="middle" font-family="Liberation Serif, serif" font-size="12.2" fill="#303030">180</text>
<text transform="translate(291.5 22.2) scale(1 1)" text-anchor="end" font-family="Liberation Serif, serif" font-size="12.2" fill="#303030">0.1</text>
<text transform="translate(291.5 60.5) scale(1 1)" text-anchor="end" font-family="Liberation Serif, serif" font-size="12.2" fill="#303030">0.08</text>
<text transform="translate(291.5 98.7) scale(1 1)" text-anchor="end" font-family="Liberation Serif, serif" font-size="12.2" fill="#303030">0.06</text>
<text transform="translate(291.5 137.0) scale(1 1)" text-anchor="end" font-family="Liberation Serif, serif" font-size="12.2" fill="#303030">0.04</text>
<path d="M316.4 133.5v-3.5M316.4 18.7v3.5M350.2 133.5v-3.5M350.2 18.7v3.5M383.9 133.5v-3.5M383.9 18.7v3.5M417.7 133.5v-3.5M417.7 18.7v3.5M300.2 18.7h3.5M427.2 18.7h-3.5M300.2 57.0h3.5M427.2 57.0h-3.5M300.2 95.2h3.5M427.2 95.2h-3.5M300.2 133.5h3.5M427.2 133.5h-3.5" stroke="#000" stroke-width="0.8" fill="none"/>
<text transform="translate(296.6 148.8) scale(1.12 1)" text-anchor="start" font-family="Liberation Serif, serif" font-size="12.5" font-style="italic" fill="#303030">N</text>
<text transform="translate(250.3 79.7) scale(1.28 1)" text-anchor="start" font-family="Liberation Serif, serif" font-size="12" font-style="italic" fill="#303030">τ</text>
</svg>
</body></html>
